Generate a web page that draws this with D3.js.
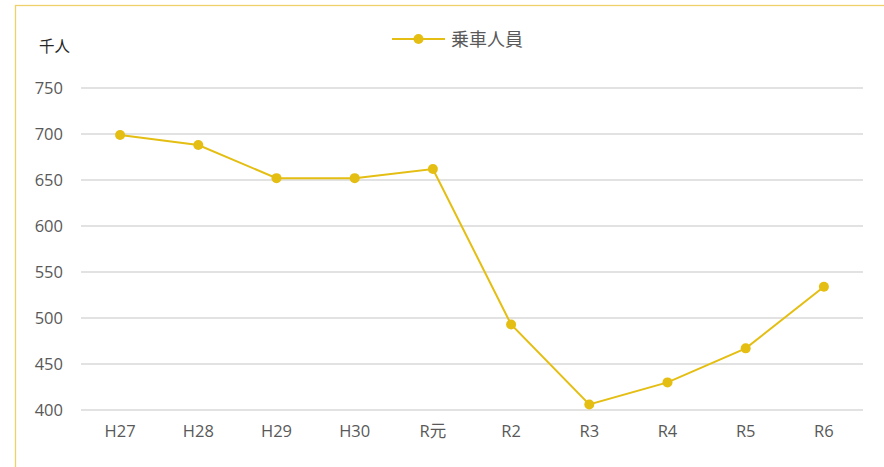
<!DOCTYPE html>
<html>
<head>
<meta charset="utf-8">
<script src="https://cdn.jsdelivr.net/npm/d3@7"></script>
<style>
  body { margin: 0; background: #fff; }
  text { font-family: "Open Sans", "Noto Sans CJK JP", sans-serif; }
</style>
</head>
<body>
<div id="viz"></div>
<script>
// data
const years = ["H27", "H28", "H29", "H30", "R元", "R2", "R3", "R4", "R5", "R6"]
const riders = [699, 688, 652, 652, 662, 493, 406, 430, 467, 534]
const yTicks = [400, 450, 500, 550, 600, 650, 700, 750]
const seriesName = "乗車人員"
const unitLabel = "千人"

const width = 884
const height = 467
const margin = {left: 81, top: 88, right: 21, bottom: 57}
const g_width = width - margin.left - margin.right
const g_height = height - margin.top - margin.bottom

const gold = "#E4BE12"

const svg = d3.select("#viz")
    .append("svg")
    .attr("width", width)
    .attr("height", height)

// outer frame
svg.append("rect")
    .attr("x", 15.5)
    .attr("y", 5.5)
    .attr("width", width)
    .attr("height", height)
    .attr("fill", "none")
    .attr("stroke", "#EDD26A")
    .attr("stroke-width", 1.3)

const g = svg.append("g")
    .attr("transform", "translate(" + margin.left + "," + margin.top + ")")

// scales
const x = d3.scaleBand()
    .domain(years)
    .range([0, g_width])

const y = d3.scaleLinear()
    .domain([400, 750])
    .range([g_height, 0])

// gridlines + y axis
const yAxis = g.append("g")
    .call(d3.axisLeft(y).tickValues(yTicks).tickSize(0).tickPadding(18))
yAxis.select(".domain").remove()
yAxis.selectAll("text")
    .style("font-size", "16.5px")
    .attr("fill", "#595959")

g.selectAll(".grid")
    .data(yTicks)
    .enter()
    .append("line")
    .attr("x1", 0)
    .attr("x2", g_width)
    .attr("y1", d => y(d))
    .attr("y2", d => y(d))
    .attr("stroke", "#D9D9D9")
    .attr("stroke-width", 1.5)

// x axis
const xAxis = g.append("g")
    .attr("transform", "translate(0," + g_height + ")")
    .call(d3.axisBottom(x).tickSize(0).tickPadding(15))
xAxis.select(".domain").remove()
xAxis.selectAll("text")
    .style("font-size", "16.5px")
    .attr("fill", "#595959")

// line
const line = d3.line()
    .x((d, i) => x(years[i]) + x.bandwidth() / 2)
    .y(d => y(d))

g.append("path")
    .datum(riders)
    .attr("d", line)
    .attr("fill", "none")
    .attr("stroke", gold)
    .attr("stroke-width", 2)

g.selectAll(".dot")
    .data(riders)
    .enter()
    .append("circle")
    .attr("cx", (d, i) => x(years[i]) + x.bandwidth() / 2)
    .attr("cy", d => y(d))
    .attr("r", 5)
    .attr("fill", gold)

// unit label
svg.append("text")
    .attr("x", 39)
    .attr("y", 52)
    .style("font-size", "15.5px")
    .attr("fill", "#262626")
    .text(unitLabel)

// legend
const legend = svg.append("g").attr("transform", "translate(392,39)")
legend.append("line")
    .attr("x1", 0).attr("x2", 53)
    .attr("y1", 0).attr("y2", 0)
    .attr("stroke", gold)
    .attr("stroke-width", 2)
legend.append("circle")
    .attr("cx", 26.5).attr("cy", 0).attr("r", 5)
    .attr("fill", gold)
legend.append("text")
    .attr("x", 59)
    .attr("y", 6.5)
    .style("font-size", "18px")
    .attr("fill", "#595959")
    .text(seriesName)
</script>
</body>
</html>
